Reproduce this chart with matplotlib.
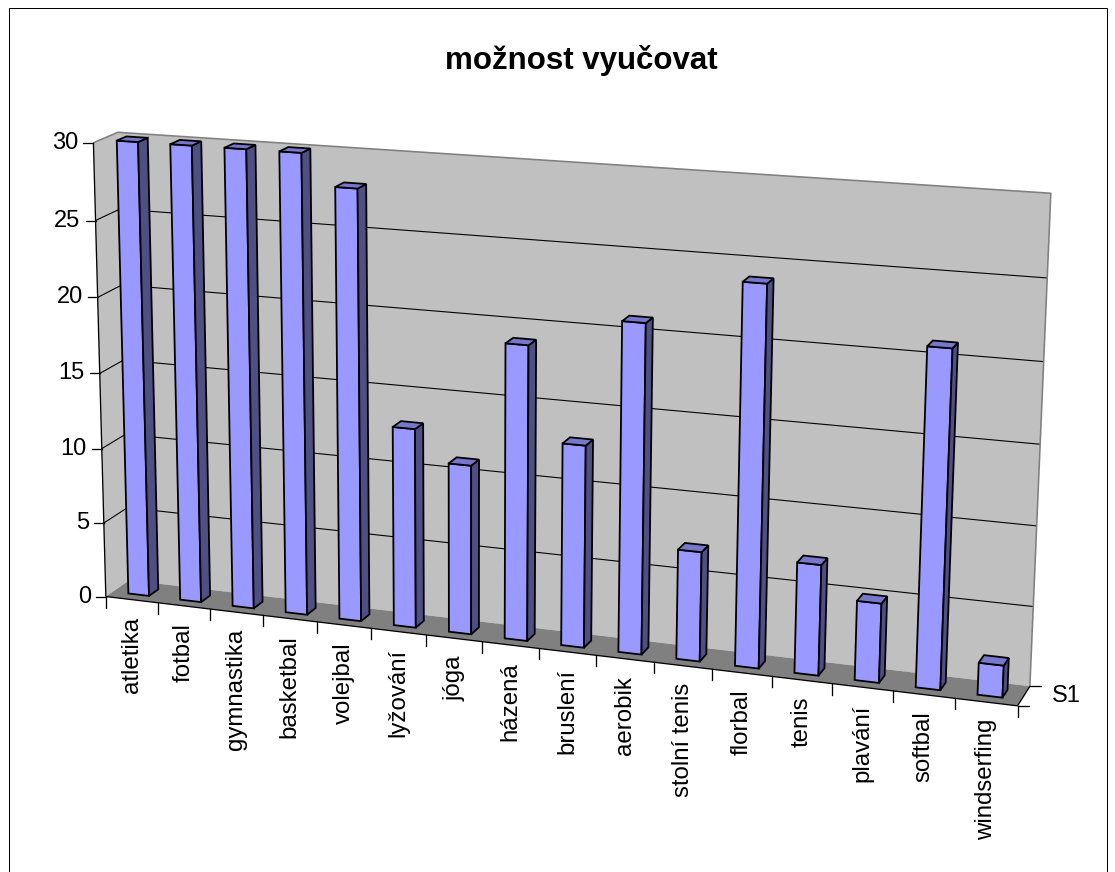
import numpy as np
import matplotlib
matplotlib.use("Agg")
import matplotlib.pyplot as plt
from matplotlib.patches import Polygon, Rectangle

plt.rcParams["font.family"] = ["Liberation Sans", "DejaVu Sans"]

title = "možnost vyučovat"
categories = ["atletika", "fotbal", "gymnastika", "basketbal", "volejbal",
              "lyžování", "jóga", "házená", "bruslení", "aerobik",
              "stolní tenis", "florbal", "tenis", "plavání", "softbal",
              "windserfing"]
values = [30, 30, 30, 30, 28, 13, 11, 19, 13, 21, 7, 24, 7, 5, 21, 2]
value_ticks = [0, 5, 10, 15, 20, 25, 30]
series_name = "S1"

n = len(categories)
zmax = value_ticks[-1]

# colours
wall_c = "#C0C0C0"
floor_c = "#808080"
front_c = "#9999FF"
side_c = "#4F4F84"
top_c = "#7777CC"
px = 0.72  # one pixel in points

# camera: box corners (category, depth, value) -> page pixels
anchor_world = np.array([(0, 0, 0), (0, 0, zmax), (0, 1, zmax), (0, 1, 0),
                         (n, 1, zmax), (n, 1, 0), (n, 0, 0),
                         (n / 2, 0, 0), (0, 0, zmax / 2)], dtype=float)
anchor_px = np.array([(107, 597), (92, 143), (119, 133), (128, 580),
                      (1051, 193), (1030, 686), (1017, 706),
                      (539, 649), (100, 372)], dtype=float)


def fit_camera(world, pix):
    w = world / [n, 1, zmax]
    p = pix / 1000.0
    rows = []
    for (X, Y, Z), (u, v) in zip(w, p):
        rows.append([X, Y, Z, 1, 0, 0, 0, 0, -u * X, -u * Y, -u * Z, -u])
        rows.append([0, 0, 0, 0, X, Y, Z, 1, -v * X, -v * Y, -v * Z, -v])
    _, _, vt = np.linalg.svd(np.array(rows))
    return vt[-1].reshape(3, 4)


P = fit_camera(anchor_world, anchor_px)


def proj(x, d, z):
    h = P @ np.array([x / n, d, z / zmax, 1.0])
    return h[0] / h[2] * 1000.0, h[1] / h[2] * 1000.0


def face(ax, pts, fc, ec="black", lw=1.8, z=1):
    ax.add_patch(Polygon([proj(*p) for p in pts], closed=True, facecolor=fc,
                         edgecolor=ec, linewidth=lw * px, joinstyle="miter",
                         zorder=z))


def seg(ax, pts, color="black", lw=1.0, z=2):
    xy = np.array([proj(*p) for p in pts])
    ax.plot(xy[:, 0], xy[:, 1], color=color, linewidth=lw * px, zorder=z,
            solid_capstyle="butt")


fig = plt.figure(figsize=(11.15, 8.72), dpi=100)
ax = fig.add_axes([0, 0, 1, 1])
ax.set_xlim(0, 1115)
ax.set_ylim(872, 0)
ax.axis("off")

# chart border
ax.add_patch(Rectangle((8.5, 8.5), 1098, 900, fill=False, edgecolor="black",
                       linewidth=1.0 * px, zorder=0))

# walls and floor
face(ax, [(0, 0, 0), (0, 1, 0), (0, 1, zmax), (0, 0, zmax)], wall_c, ec="none")
face(ax, [(0, 1, 0), (n, 1, 0), (n, 1, zmax), (0, 1, zmax)], wall_c, ec="none")
face(ax, [(0, 0, 0), (n, 0, 0), (n, 1, 0), (0, 1, 0)], floor_c, ec="none")

# gridlines
for t in value_ticks[1:-1]:
    seg(ax, [(0, 0, t), (0, 1, t), (n, 1, t)], lw=1.1)
seg(ax, [(0, 0, zmax), (0, 1, zmax), (n, 1, zmax), (n, 1, 0)],
    color="#808080", lw=1.6)

# value axis
seg(ax, [(0, 0, 0), (0, 0, zmax)], lw=1.3, z=3)
for t in value_ticks:
    x, y = proj(0, 0, t)
    ax.plot([x - 10, x], [y, y], color="black", linewidth=1.3 * px, zorder=3)
    ax.text(x - 15, y, str(t), ha="right", va="center", fontsize=17)

# category axis
seg(ax, [(0, 0, 0), (n, 0, 0)], lw=1.3, z=3)
for i in range(n + 1):
    x, y = proj(i, 0, 0)
    ax.plot([x, x], [y, y + 11], color="black", linewidth=1.3 * px, zorder=3)
for i, lab in enumerate(categories):
    x, y = proj(i + 0.5, 0, 0)
    ax.text(x, y + 17, lab, rotation=90, ha="center", va="top", fontsize=17.3)

# series axis
seg(ax, [(n, 0, 0), (n, 1, 0)], lw=1.3, z=3)
for d in (0, 1):
    x, y = proj(n, d, 0)
    ax.plot([x, x + 11], [y, y], color="black", linewidth=1.3 * px, zorder=3)
x, y = proj(n, 0.5, 0)
ax.text(x + 28, y, series_name, ha="left", va="center", fontsize=17)

# bars, left to right so nearer ones overlap
w0, w1 = 0.3, 0.7
d0, d1 = 0.3, 0.7
for i, v in enumerate(values):
    x0, x1 = i + w0, i + w1
    face(ax, [(x0, d0, 0), (x1, d0, 0), (x1, d0, v), (x0, d0, v)], front_c, z=4)
    face(ax, [(x1, d0, 0), (x1, d1, 0), (x1, d1, v), (x1, d0, v)], side_c, z=4)
    face(ax, [(x0, d0, v), (x1, d0, v), (x1, d1, v), (x0, d1, v)], top_c, z=4)

ax.text(581, 60, title, ha="center", va="center", fontsize=22.5,
        fontweight="bold")

fig.savefig("out.png", dpi=100)
